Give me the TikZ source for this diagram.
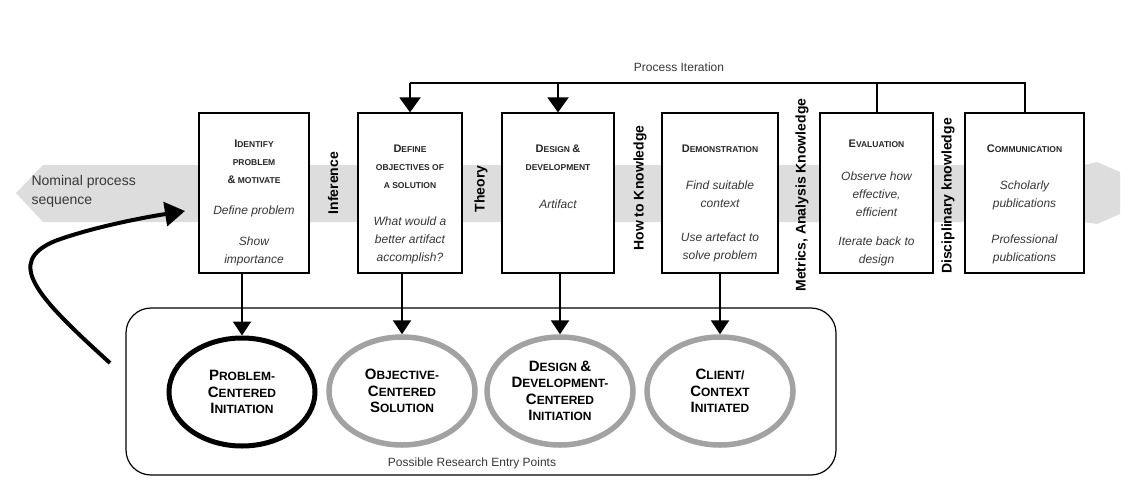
\documentclass[tikz,border=0pt]{standalone}
\usepackage{fontspec}
\setmainfont{Liberation Sans}
\usetikzlibrary{shapes.geometric, arrows.meta, positioning}
\definecolor{bandgray}{RGB}{221,221,221}
\definecolor{ringgray}{RGB}{162,162,162}
\definecolor{bodytext}{RGB}{55,55,55}
\newcommand{\bt}[2]{{\fontsize{11}{18}\selectfont #1}{\fontsize{8.5}{18}\selectfont #2}}
\newcommand{\et}[2]{{\fontsize{15}{16.5}\selectfont #1}{\fontsize{12}{16.5}\selectfont #2}}

\begin{document}
\begin{tikzpicture} [
        x = 1pt, y = -1pt,
        stage/.style = {rectangle, draw, line width=1.2pt, fill=white, minimum height=160pt, inner sep=0pt},
        title/.style = {align=center, font=\bfseries\fontsize{11}{18}\selectfont, text=black!85},
        body/.style = {align=center, font=\itshape\fontsize{12}{18}\selectfont, text=bodytext},
        knowledge/.style = {rotate=90, font=\bfseries\fontsize{14}{16}\selectfont},
        entry/.style = {ellipse, draw=ringgray, line width=5.5pt, minimum width=146pt, minimum height=108pt, inner sep=0pt, align=center, font=\bfseries\fontsize{15}{16.5}\selectfont},
        flow/.style = {draw, line width=2.5pt, -{Triangle[length=14pt, width=18pt]}},
        iter/.style = {draw, line width=2pt}
    ]

    \useasboundingbox (0,0) rectangle (1134,503);

    \fill[bandgray] (16,193) -- (43,165) -- (1084,165) -- (1097,162) -- (1120,172)
        -- (1120,214) -- (1097,224) -- (1084,222) -- (43,222) -- cycle;
    \node[anchor=west, align=left, font=\fontsize{14}{19}\selectfont, text=bodytext] (nominal) at (28,191) {Nominal process\\sequence};

    \node[stage, minimum width=110pt] (identify)      at (254,193)   {};
    \node[stage, minimum width=104pt] (objectives)    at (410,193)   {};
    \node[stage, minimum width=112pt] (design)        at (558,193)   {};
    \node[stage, minimum width=116pt] (demo)          at (720,193)   {};
    \node[stage, minimum width=113pt] (evaluation)    at (876.5,193) {};
    \node[stage, minimum width=119pt] (communication) at (1024.5,193) {};

    \node[title] (identifyT) at (254,162) {\bt{I}{DENTIFY}\\\bt{}{PROBLEM}\\\bt{\&}{ MOTIVATE}};
    \node[body]  (identifyA) at (254,211) {Define problem};
    \node[body]  (identifyB) at (254,251) {Show\\importance};

    \node[title] (objectivesT) at (410,167) {\bt{D}{EFINE}\\\bt{}{OBJECTIVES OF}\\\bt{}{A SOLUTION}};
    \node[body]  (objectivesA) at (410,240) {What would a\\better artifact\\accomplish?};

    \node[title] (designT) at (558,157.5) {\bt{D}{ESIGN }\bt{\&}{}\\\bt{}{DEVELOPMENT}};
    \node[body]  (designA) at (558,204)   {Artifact};

    \node[title] (demoT) at (720,149)   {\bt{D}{EMONSTRATION}};
    \node[body]  (demoA) at (720,194)   {Find suitable\\context};
    \node[body]  (demoB) at (720,247.5) {Use artefact to\\solve problem};

    \node[title] (evaluationT) at (876.5,144)   {\bt{E}{VALUATION}};
    \node[body]  (evaluationA) at (876.5,194)   {Observe how\\effective,\\efficient};
    \node[body]  (evaluationB) at (876.5,251.5) {Iterate back to\\design};

    \node[title] (communicationT) at (1024.5,149) {\bt{C}{OMMUNICATION}};
    \node[body]  (communicationA) at (1024.5,195) {Scholarly\\publications};
    \node[body]  (communicationB) at (1024.5,249) {Professional\\publications};

    \node[knowledge] (inference)   at (333,183) {Inference};
    \node[knowledge] (theory)      at (481,189) {Theory};
    \node[knowledge] (howto)       at (640,188) {How to Knowledge};
    \node[knowledge] (metrics)     at (802,195) {Metrics, Analysis Knowledge};
    \node[knowledge] (disciplinary) at (948,196) {Disciplinary knowledge};

    % process iteration
    \coordinate (top) at (0,83);
    \node[font=\fontsize{12}{14}\selectfont, text=bodytext] (iteration) at (679,67) {Process Iteration};
    \path[iter] (communication.north) -- (communication.north |- top) -- (objectives.north |- top);
    \path[iter] (evaluation.north) -- (evaluation.north |- top);
    \path[iter, -{Triangle[length=15pt, width=21pt]}] (objectives.north |- top) -- (objectives.north);
    \path[iter, -{Triangle[length=15pt, width=21pt]}] (design.north |- top) -- (design.north);

    % entry points
    \node[draw, line width=1.2pt, rounded corners=25pt, minimum width=710pt, minimum height=167pt] (entries) at (481,391.5) {};
    \node[font=\fontsize{12}{14}\selectfont, text=bodytext] (entriesT) at (472,463) {Possible Research Entry Points};

    \node[entry, draw=black, line width=5pt] (problem)   at (242,392) {\et{P}{ROBLEM-}\\\et{C}{ENTERED}\\\et{I}{NITIATION}};
    \node[entry] (objective) at (402,391) {\et{O}{BJECTIVE-}\\\et{C}{ENTERED}\\\et{S}{OLUTION}};
    \node[entry] (designdev) at (560,391) {\et{D}{ESIGN }\et{\&}{}\\\et{D}{EVELOPMENT-}\\\et{C}{ENTERED}\\\et{I}{NITIATION}};
    \node[entry] (client)    at (720,391) {\et{C}{LIENT/}\\\et{C}{ONTEXT}\\\et{I}{NITIATED}};

    \path[flow] (identify.south -| problem.north)    -- (problem.north);
    \path[flow] (objectives.south -| objective.north) -- (objective.north);
    \path[flow] (design.south -| designdev.north)    -- (designdev.north);
    \path[flow] (demo.south -| client.north)          -- (client.north);

    \coordinate (loopstart) at (110,363);
    \coordinate (looptip) at (185,211);
    \draw[line width=4pt, -{Triangle[length=20pt, width=24pt]}] (loopstart)
        .. controls (35,295) and (5,262) .. (55,241)
        .. controls (90,228) and (140,218) .. (looptip);

\end{tikzpicture}
\end{document}
